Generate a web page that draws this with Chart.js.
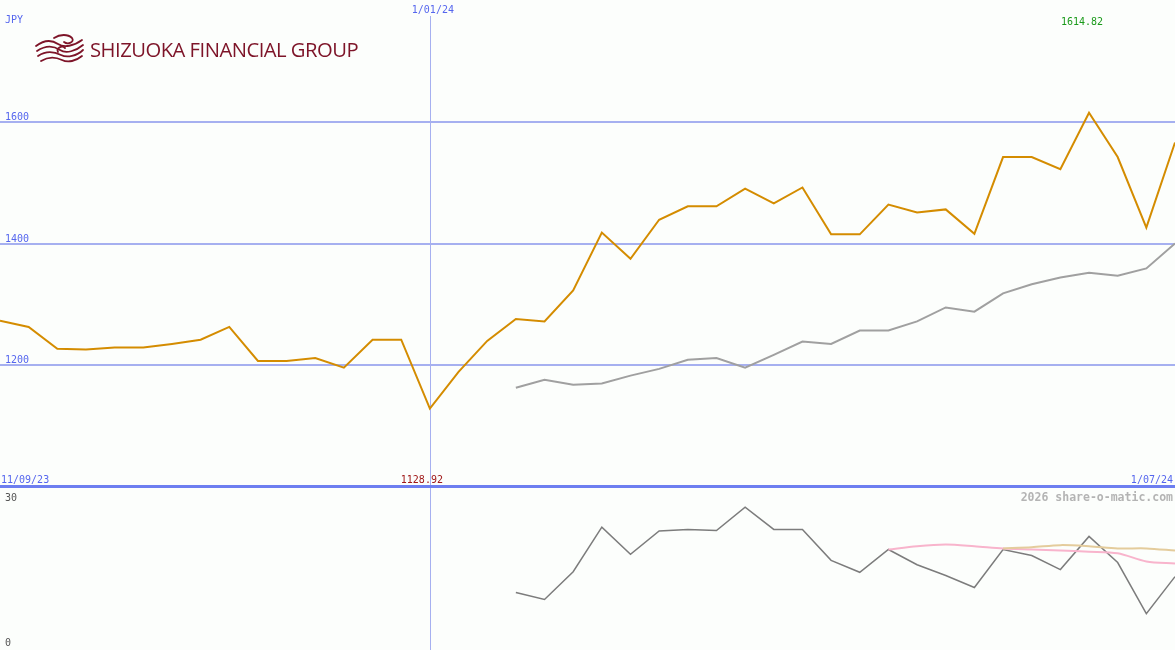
<!DOCTYPE html>
<html lang="en">
<head>
    <meta charset="UTF-8">
    <title>Shizuoka Financial Group - JPY</title>
    <script src="https://cdn.jsdelivr.net/npm/chart.js"></script>
    <style>
        html, body {
            margin: 0;
            padding: 0;
            background: #fcfefc;
        }
        .wrap {
            position: relative;
            width: 1175px;
            height: 650px;
            overflow: hidden;
        }
        #topBox {
            position: absolute;
            left: 0; top: 0;
            width: 1175px; height: 487px;
        }
        #bottomBox {
            position: absolute;
            left: 0; top: 487px;
            width: 1175px; height: 163px;
        }
        .logo {
            position: absolute;
            left: 34px; top: 31px;
            height: 38px;
        }
        .logo-text {
            position: absolute;
            left: 90px; top: 36px;
            font-family: "Open Sans", sans-serif;
            font-size: 20px;
            color: #7d1428;
            white-space: nowrap;
            transform-origin: 0 0;
            letter-spacing: -0.5px;
        }
    </style>
</head>
<body>
    <div class="wrap">
        <div id="topBox"><canvas id="priceChart"></canvas></div>
        <div id="bottomBox"><canvas id="lowerChart"></canvas></div>
        <svg class="logo" width="52" height="38" viewBox="0 0 52 36">
            <g fill="none" stroke="#7d1428" stroke-width="1.8" stroke-linecap="round">
                <path d="M2 14 C10 8, 18 8, 24 12 C30 16, 40 14, 48 8"/>
                <path d="M3 19 C12 13, 20 14, 26 18 C32 22, 42 19, 49 13"/>
                <path d="M4 24 C13 18, 21 20, 27 23 C33 26, 43 24, 49 18"/>
                <path d="M7 29 C15 24, 22 25, 28 28 C34 31, 42 29, 48 24"/>
                <path d="M20 6 C26 2, 34 2, 38 6 C41 10, 34 13, 30 10"/>
                <path d="M24 20 C22 16, 28 13, 31 16"/>
            </g>
        </svg>
        <div class="logo-text" id="logoText">SHIZUOKA FINANCIAL GROUP</div>
    </div>

    <script>
        // weekly closes, 18/09/23 .. 1/07/24
        const weeks = ['18/09/23', '25/09/23', '2/10/23', '9/10/23', '16/10/23', '23/10/23', '30/10/23',
            '6/11/23', '13/11/23', '20/11/23', '27/11/23', '4/12/23', '11/12/23', '18/12/23', '25/12/23',
            '1/01/24', '8/01/24', '15/01/24', '22/01/24', '29/01/24', '5/02/24', '12/02/24', '19/02/24',
            '26/02/24', '4/03/24', '11/03/24', '18/03/24', '25/03/24', '1/04/24', '8/04/24', '15/04/24',
            '22/04/24', '29/04/24', '6/05/24', '13/05/24', '20/05/24', '27/05/24', '3/06/24', '10/06/24',
            '17/06/24', '24/06/24', '1/07/24'];

        const price = [1273, 1263, 1227, 1226, 1229, 1229, 1235, 1242, 1263, 1207, 1207, 1212,
            1196, 1242, 1242, 1128.92, 1189, 1240, 1276, 1272, 1323, 1418, 1375, 1439, 1461, 1461,
            1490, 1466, 1492, 1415, 1415, 1464, 1451, 1456, 1416, 1542, 1542, 1522, 1614.82, 1542,
            1426, 1566];

        const avgStart = 18;
        const avg = [1163, 1176, 1168, 1170, 1183, 1194, 1209, 1212, 1196, 1217, 1239, 1235,
            1257, 1257, 1272, 1295, 1288, 1318, 1333, 1344, 1352, 1347, 1359, 1400];

        const lowerStart = 18;
        const lower = [10.6, 9.3, 14.4, 22.6, 17.6, 21.9, 22.2, 22.0, 26.3, 22.2, 22.2, 16.5,
            14.3, 18.5, 15.7, 13.7, 11.5, 18.5, 17.4, 14.8, 20.9, 16.1, 6.7, 13.5];

        const pinkStart = 31;
        const pink = [18.5, 19.1, 19.4, 19.1, 18.7, 18.5, 18.3, 18.1, 17.8, 16.3, 15.9];

        const tanStart = 35;
        const tan = [18.7, 18.9, 19.3, 19.1, 18.7, 18.7, 18.3];

        const priceTicks = [1200, 1400, 1600];
        const lowerTicks = [0, 30];
        const markWeek = '1/01/24';

        const blue = '#5566ee';
        const gridBlue = '#a6b0f0';
        const mono = '10px "DejaVu Sans Mono", monospace';

        function pad(start, values) {
            return Array(start).fill(null).concat(values);
        }

        const hiIdx = price.indexOf(Math.max(...price));
        const loIdx = price.indexOf(Math.min(...price));

        const topPlugin = {
            id: 'topDecor',
            beforeDatasetsDraw(chart) {
                const { ctx, scales: { x, y }, chartArea } = chart;
                ctx.save();
                ctx.strokeStyle = gridBlue;
                ctx.lineWidth = 2;
                priceTicks.forEach(v => {
                    const py = Math.round(y.getPixelForValue(v));
                    ctx.beginPath();
                    ctx.moveTo(chartArea.left, py);
                    ctx.lineTo(chartArea.right, py);
                    ctx.stroke();
                });
                const vx = Math.round(x.getPixelForValue(weeks.indexOf(markWeek))) + 0.5;
                ctx.lineWidth = 1;
                ctx.beginPath();
                ctx.moveTo(vx, 16);
                ctx.lineTo(vx, chartArea.bottom);
                ctx.stroke();
                ctx.restore();
            },
            afterDraw(chart) {
                const { ctx, scales: { x, y }, chartArea } = chart;
                ctx.save();
                ctx.font = mono;
                ctx.textBaseline = 'alphabetic';
                ctx.fillStyle = blue;
                ctx.textAlign = 'left';
                priceTicks.forEach(v => {
                    ctx.fillText(String(v), 5, y.getPixelForValue(v) - 2);
                });
                ctx.fillText('JPY', 5, 23);
                ctx.fillText('11/09/23', 1, 483);
                ctx.textAlign = 'center';
                ctx.fillText(markWeek, x.getPixelForValue(weeks.indexOf(markWeek)) + 3, 13);
                ctx.textAlign = 'right';
                ctx.fillText(weeks[weeks.length - 1], 1173, 483);

                ctx.textAlign = 'center';
                ctx.fillStyle = '#1a9a1a';
                ctx.fillText(price[hiIdx].toFixed(2), x.getPixelForValue(hiIdx) - 7, 25);
                ctx.fillStyle = '#a01818';
                ctx.fillText(price[loIdx].toFixed(2), x.getPixelForValue(loIdx) - 8, 483);

                ctx.fillStyle = '#6d7ef0';
                ctx.fillRect(0, chartArea.bottom - 2, chart.width, 2);
                ctx.restore();
            }
        };

        const lowerPlugin = {
            id: 'lowerDecor',
            beforeDatasetsDraw(chart) {
                const { ctx, scales: { x }, chartArea } = chart;
                const vx = Math.round(x.getPixelForValue(weeks.indexOf(markWeek))) + 0.5;
                ctx.save();
                ctx.strokeStyle = gridBlue;
                ctx.lineWidth = 1;
                ctx.beginPath();
                ctx.moveTo(vx, chartArea.top);
                ctx.lineTo(vx, chartArea.bottom);
                ctx.stroke();
                ctx.fillStyle = '#6d7ef0';
                ctx.fillRect(0, 0, chart.width, 1);
                ctx.restore();
            },
            afterDraw(chart) {
                const { ctx } = chart;
                ctx.save();
                ctx.font = mono;
                ctx.fillStyle = '#555555';
                ctx.textAlign = 'left';
                ctx.fillText(String(lowerTicks[1]), 5, 14);
                ctx.fillText(String(lowerTicks[0]), 5, 159);
                ctx.font = 'bold 11.5px "DejaVu Sans Mono", monospace';
                ctx.fillStyle = '#b4b4b4';
                ctx.textAlign = 'right';
                ctx.fillText('2026 share-o-matic.com', 1173, 14);
                ctx.restore();
            }
        };

        const baseOptions = (min, max) => ({
            responsive: false,
            animation: false,
            maintainAspectRatio: false,
            layout: { padding: 0 },
            plugins: { legend: { display: false }, tooltip: { enabled: false } },
            elements: { point: { radius: 0 } },
            scales: {
                x: { display: false, offset: false },
                y: { display: false, min: min, max: max }
            }
        });

        const topCanvas = document.getElementById('priceChart');
        topCanvas.width = 1175;
        topCanvas.height = 487;
        new Chart(topCanvas.getContext('2d'), {
            type: 'line',
            data: {
                labels: weeks,
                datasets: [{
                    data: price,
                    borderColor: '#d48c00',
                    borderWidth: 2,
                    tension: 0
                }, {
                    data: pad(avgStart, avg),
                    borderColor: '#a0a0a0',
                    borderWidth: 2,
                    tension: 0
                }]
            },
            options: baseOptions(1000, 1800),
            plugins: [topPlugin]
        });

        const lowCanvas = document.getElementById('lowerChart');
        lowCanvas.width = 1175;
        lowCanvas.height = 163;
        new Chart(lowCanvas.getContext('2d'), {
            type: 'line',
            data: {
                labels: weeks,
                datasets: [{
                    data: pad(tanStart, tan),
                    borderColor: '#e4cc9c',
                    borderWidth: 2,
                    tension: 0.3
                }, {
                    data: pad(pinkStart, pink),
                    borderColor: '#f8b4cc',
                    borderWidth: 2,
                    tension: 0.3
                }, {
                    data: pad(lowerStart, lower),
                    borderColor: '#7c7c7c',
                    borderWidth: 1.5,
                    tension: 0
                }]
            },
            options: baseOptions(0, 30),
            plugins: [lowerPlugin]
        });

        // stretch the logo caption to its width in the picture
        const lt = document.getElementById('logoText');
        lt.style.transform = 'scaleX(' + (268 / lt.offsetWidth) + ')';
    </script>
</body>
</html>
